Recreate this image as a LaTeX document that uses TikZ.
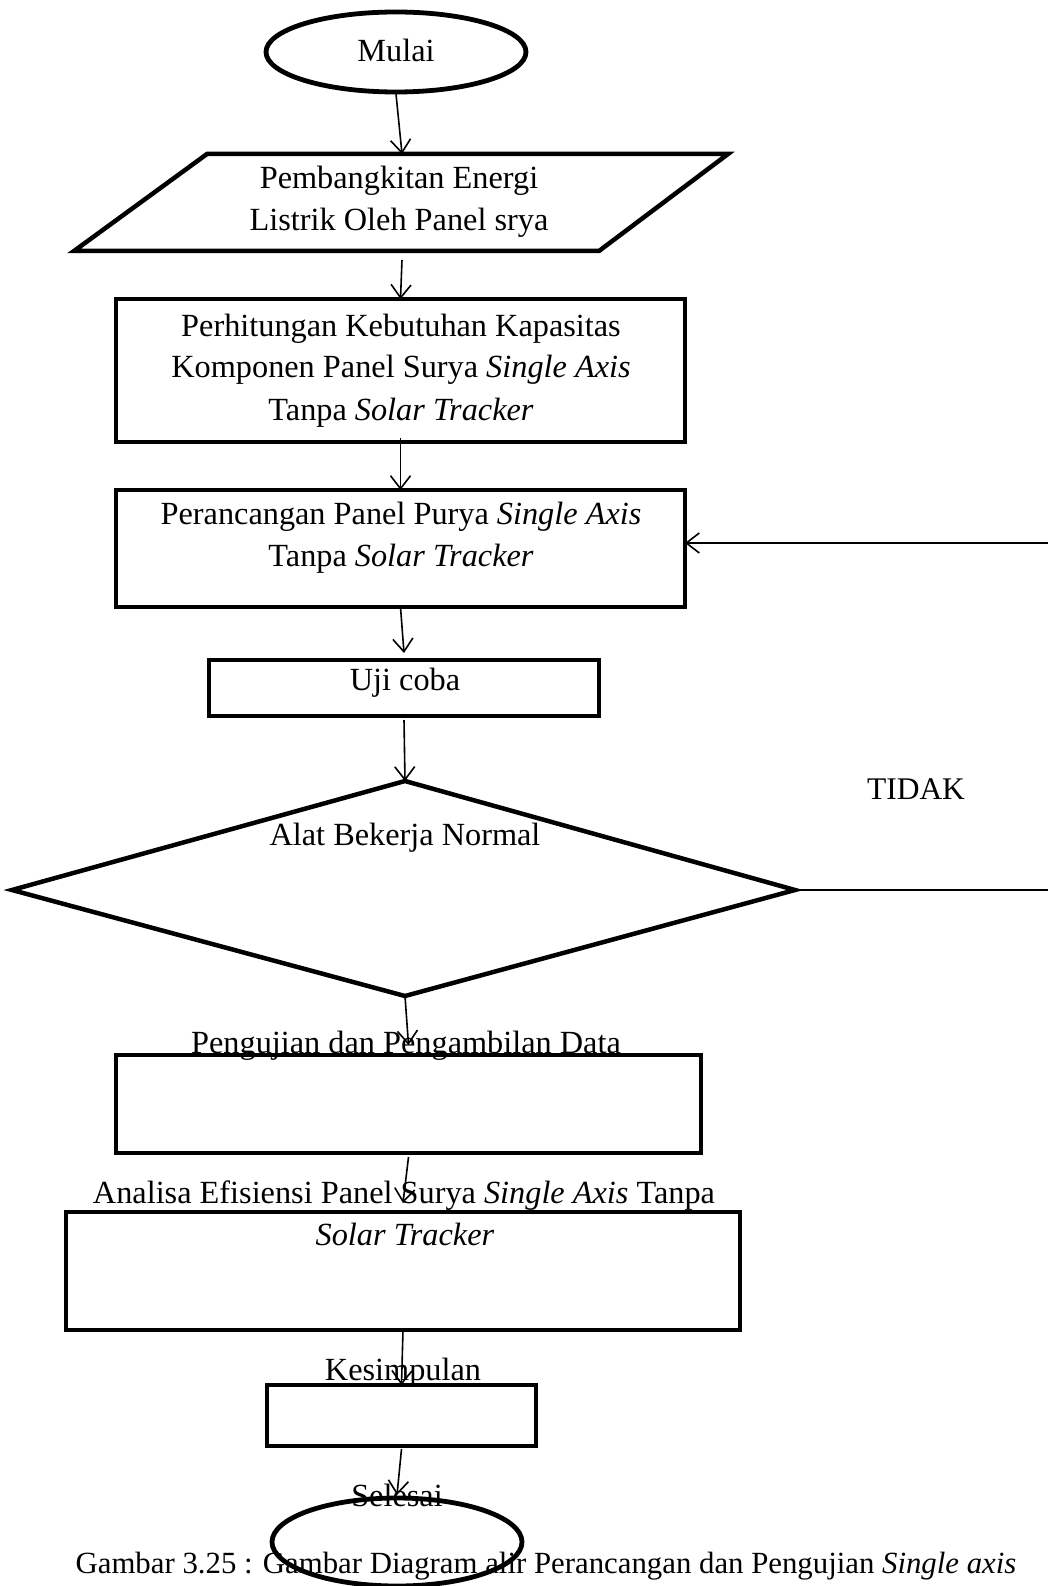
\documentclass[tikz,border=0pt]{standalone}
\usepackage{fontspec}
\setmainfont{Liberation Serif}
\usetikzlibrary{arrows.meta,shapes.geometric}
\begin{document}
\begin{tikzpicture}[x=1pt,y=-1pt,
  shapeline/.style={draw=black,line width=4.5pt,line join=miter},
  boxnode/.style={shapeline,rectangle,inner sep=0pt,outer sep=0pt},
  ovalnode/.style={draw=black,line width=4.8pt,ellipse,inner sep=0pt,outer sep=0pt},
  arr/.style={line width=1.6pt,-{Straight Barb[length=13pt,width=20pt,line width=1.6pt]}},
  plainline/.style={line width=1.6pt},
  txt/.style={anchor=base,inner sep=0pt,font=\fontsize{32.3}{42}\selectfont},
  smalltxt/.style={anchor=base,inner sep=0pt,font=\fontsize{31.5}{42}\selectfont},
  captxt/.style={anchor=base,inner sep=0pt,font=\fontsize{30.8}{42}\selectfont}]
\useasboundingbox (0,0) rectangle (1048,1586);
\fill[white] (0,0) rectangle (1048,1586);

% shapes
\node[ovalnode,minimum width=260pt,minimum height=80pt] (mulai) at (396,52) {};
\draw[shapeline] (207,154) -- (728,154) -- (599,251) -- (74,251) -- cycle;
\coordinate (paraN) at (402,154);
\coordinate (paraS) at (402,251);
\node[boxnode,minimum width=569pt,minimum height=143pt] (box1) at (400.5,370.5) {};
\node[boxnode,minimum width=569pt,minimum height=117pt] (box2) at (400.5,548.5) {};
\node[boxnode,minimum width=390pt,minimum height=56pt] (uji) at (404,688) {};
\draw[shapeline] (405,781) -- (795,890) -- (405,996) -- (12,890) -- cycle;
\coordinate (dT) at (405,781);
\coordinate (dB) at (405,996);
\coordinate (dR) at (795,890);
\coordinate (dRR) at (1048,890);
\coordinate (retR) at (1048,543);
\node[boxnode,minimum width=585pt,minimum height=98pt] (peng) at (408.5,1104) {};
\node[boxnode,minimum width=674pt,minimum height=118pt] (ana) at (403,1271) {};
\node[boxnode,minimum width=269pt,minimum height=61pt] (kes) at (401.5,1415.5) {};
\node[ovalnode,minimum width=250pt,minimum height=88pt] (sel) at (397,1542) {};

% texts
\node[txt] (tMulai) at (396,62) {Mulai};
\node[txt] (tP1) at (399,189) {Pembangkitan Energi};
\node[txt] (tP2) at (399,231) {Listrik Oleh Panel srya};
\node[txt] (tB1a) at (401,336) {Perhitungan Kebutuhan Kapasitas};
\node[txt] (tB1b) at (401,377) {Komponen Panel Surya \textit{Single Axis}};
\node[txt] (tB1c) at (401,420) {Tanpa \textit{Solar Tracker}};
\node[txt] (tB2a) at (401,524) {Perancangan Panel Purya \textit{Single Axis}};
\node[txt] (tB2b) at (401,566) {Tanpa \textit{Solar Tracker}};
\node[txt] (tUji) at (405,690) {Uji coba};
\node[smalltxt] (tTidak) at (916,799) {TIDAK};
\node[txt] (tAlat) at (405,845) {Alat Bekerja Normal};
\node[txt] (tPeng) at (406,1053) {Pengujian dan Pengambilan Data};
\node[txt] (tAnaA) at (404,1203) {Analisa Efisiensi Panel Surya \textit{Single Axis} Tanpa};
\node[txt] (tAnaB) at (405,1245) {\textit{Solar Tracker}};
\node[txt] (tKes) at (403,1380) {Kesimpulan};
\node[txt] (tSel) at (397,1506) {Selesai};
\node[captxt] (tCap) at (546,1573) {Gambar 3.25 : Gambar Diagram alir Perancangan dan Pengujian \textit{Single axis}};

% connectors
\draw[arr] ([yshift=-2pt]mulai.south) -- (paraN);
\draw[arr] ([yshift=-9pt]paraS) -- (box1.north);
\draw[arr] ([yshift=4pt]box1.south) -- (box2.north);
\draw[arr] (box2.south) -- ([yshift=7pt]uji.north);
\draw[arr] ([yshift=-4pt]uji.south) -- (dT);
\draw[arr] (dB) -- ([yshift=10pt]peng.north);
\draw[arr] ([yshift=-4pt]peng.south) -- ([yshift=9pt]ana.north);
\draw[arr] (ana.south) -- (kes.north);
\draw[arr] ([yshift=-3pt]kes.south) -- ([yshift=3pt]sel.north);
\draw[arr] (retR) -- (retR -| box2.east);
\draw[plainline] (dR) -- (dRR);
\end{tikzpicture}
\end{document}
